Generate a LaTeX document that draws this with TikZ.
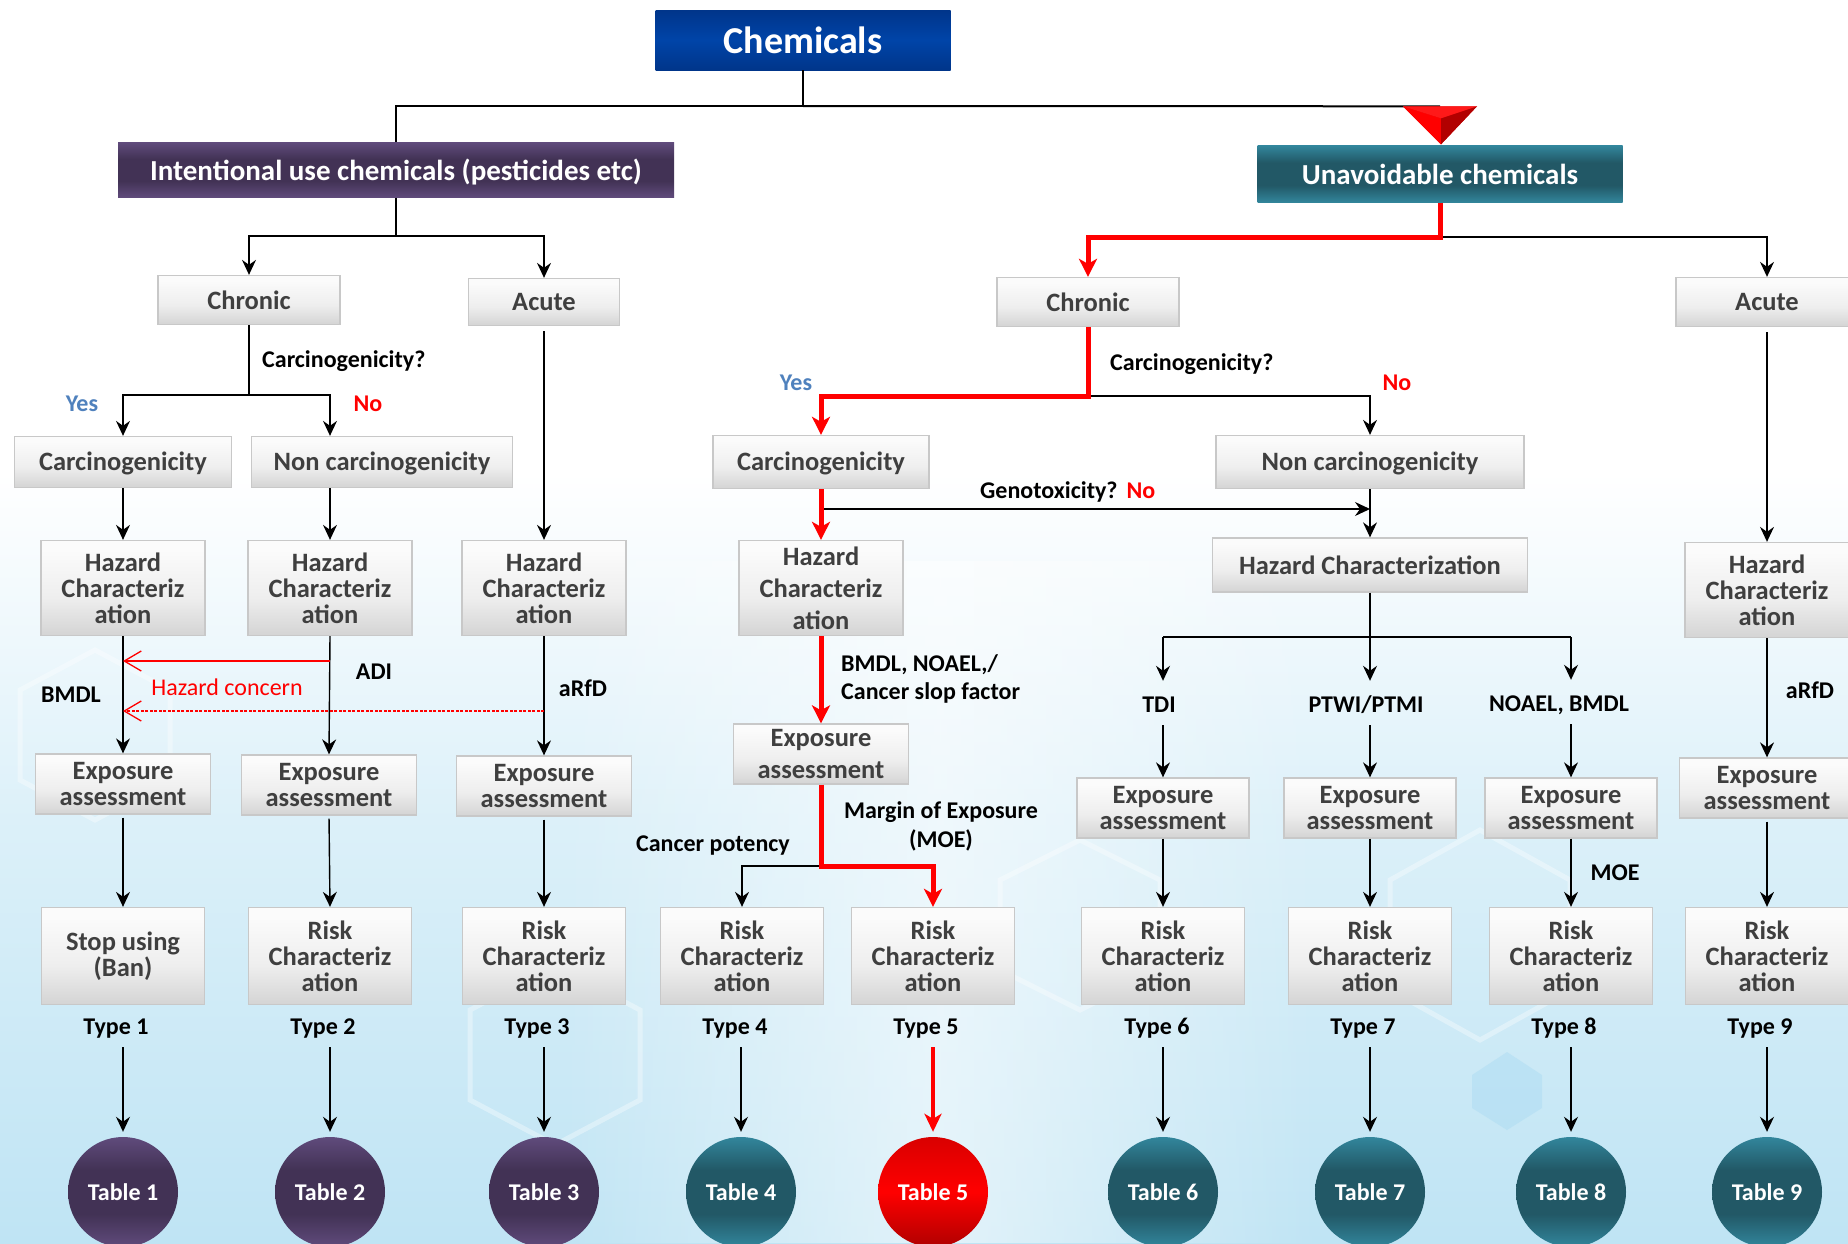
\documentclass[tikz,border=0pt]{standalone}
\usepackage{fontspec}
\setmainfont{Carlito}
\usetikzlibrary{arrows.meta,calc,shapes.geometric,fadings}

\definecolor{boxtxt}{HTML}{3F3F3F}
\definecolor{boxline}{HTML}{C8C8C8}
\definecolor{gtop}{HTML}{FBFBFB}
\definecolor{gmid}{HTML}{EEEEEE}
\definecolor{gbot}{HTML}{D4D4D4}
\definecolor{purpE}{HTML}{604B7C}
\definecolor{purpM}{HTML}{423255}
\definecolor{tealE}{HTML}{32869C}
\definecolor{tealM}{HTML}{225866}
\definecolor{blueE}{HTML}{00358A}
\definecolor{blueM}{HTML}{0044A8}
\definecolor{yesblue}{HTML}{4F81BD}
\definecolor{bgblue}{HTML}{BFE4F4}
\definecolor{hexblue}{HTML}{A9DAF2}
\definecolor{redE}{HTML}{B00000}

\pgfdeclareverticalshading{grayshade}{100bp}{color(0bp)=(gbot); color(25bp)=(gbot); color(45bp)=(gmid); color(70bp)=(gtop); color(100bp)=(gtop)}
\pgfdeclareverticalshading{purpshade}{100bp}{color(0bp)=(purpE); color(25bp)=(purpE); color(40bp)=(purpM); color(60bp)=(purpM); color(75bp)=(purpE); color(100bp)=(purpE)}
\pgfdeclareverticalshading{tealshade}{100bp}{color(0bp)=(tealE); color(25bp)=(tealE); color(40bp)=(tealM); color(60bp)=(tealM); color(75bp)=(tealE); color(100bp)=(tealE)}
\pgfdeclareverticalshading{blueshade}{100bp}{color(0bp)=(blueE); color(25bp)=(blueE); color(50bp)=(blueM); color(75bp)=(blueE); color(100bp)=(blueE)}
\pgfdeclareverticalshading{redshade}{100bp}{color(0bp)=(redE); color(25bp)=(redE); color(50bp)=(red); color(75bp)=(red!85!black); color(100bp)=(red!85!black)}
\pgfdeclareverticalshading{bgshade}{100bp}{color(0bp)=(bgblue); color(25bp)=(bgblue); color(42bp)=(bgblue!55!white); color(56bp)=(white); color(100bp)=(white)}
\tikzfading[name=midfade, left color=transparent!100, right color=transparent!100, middle color=transparent!0]

\tikzset{
  gbox/.style={draw=boxline, line width=1.3pt, shade, shading=grayshade, text=boxtxt,
    font=\bfseries\fontsize{26.5}{26}\selectfont, align=center, inner sep=0pt},
  desc/.style={text height=19pt, text depth=1.5pt},
  hzbox/.style={gbox, minimum width=164pt, minimum height=95pt},
  exbox/.style={gbox, minimum width=175pt, minimum height=60pt},
  rkbox/.style={gbox, minimum width=163pt, minimum height=97pt},
  hdr/.style={shade, text=white, font=\bfseries\fontsize{29}{30}\selectfont, inner sep=0pt},
  lbl/.style={font=\bfseries\fontsize{24}{28}\selectfont, inner sep=0pt, text height=19.5pt, text depth=2.5pt},
  tabc/.style={circle, minimum size=110pt, inner sep=0pt, shade, text=white,
    font=\bfseries\fontsize{24}{28}\selectfont},
  tree/.style={line width=2pt, draw=black},
  arr/.style={line width=1.4pt, draw=black, -{Stealth[length=15pt,width=14pt,inset=5pt]}},
  redline/.style={line width=5pt, draw=red},
  redarr/.style={line width=5pt, draw=red, -{Stealth[length=18pt,width=18pt,inset=5pt]}},
  hcarr/.style={line width=1.3pt, draw=red, -{Straight Barb[length=17pt,width=20pt,line width=1.3pt]}},
  hexa/.style={draw=white, line width=5pt, opacity=0.35},
}

\begin{document}
\begin{tikzpicture}[x=1pt,y=-1pt]
\useasboundingbox (0,0) rectangle (1848,1243);
\shade[shading=bgshade] (0,0) rectangle (1848,1243);
\fill[white, opacity=0.55, path fading=midfade] (560,560) rectangle (1320,1243);
% faint background hexagons
\draw[hexa] (20,690) -- (95,650) -- (170,690) -- (170,780) -- (95,820) -- (20,780) -- cycle;
\draw[hexa] (470,1010) -- (555,965) -- (640,1010) -- (640,1100) -- (555,1145) -- (470,1100) -- cycle;
\draw[hexa] (1000,880) -- (1080,840) -- (1160,880) -- (1160,970) -- (1080,1010) -- (1000,970) -- cycle;
\draw[hexa] (1390,880) -- (1480,830) -- (1570,880) -- (1570,990) -- (1480,1040) -- (1390,990) -- cycle;
\fill[hexblue, opacity=0.45] (1472,1075) -- (1507,1052) -- (1542,1075) -- (1542,1108) -- (1507,1130) -- (1472,1108) -- cycle;

% ---------- top level ----------
\node[hdr, shading=blueshade, minimum width=295pt, minimum height=60pt,
      font=\bfseries\fontsize{38}{40}\selectfont] (chem) at (803,40) {Chemicals};
\node[hdr, shading=purpshade, minimum width=556pt, minimum height=55pt, text height=22pt, text depth=1pt] (intent) at (396,170) {Intentional use chemicals (pesticides etc)};
\node[hdr, shading=tealshade, minimum width=365pt, minimum height=57pt, text height=21pt, text depth=1pt] (unav) at (1440,174) {Unavoidable chemicals};

% ---------- left branch boxes ----------
\node[gbox, minimum width=182pt, minimum height=49pt] (lchr) at (249,300) {Chronic};
\node[gbox, minimum width=151pt, minimum height=47pt] (lacu) at (544,302) {Acute};
\node[gbox, desc, minimum width=217pt, minimum height=51pt] (lcar) at (123,462) {Carcinogenicity};
\node[gbox, desc, minimum width=261pt, minimum height=51pt] (lnon) at (382,462) {Non carcinogenicity};
\node[hzbox] (lhz1) at (123,588) {Hazard\\Characteriz\\ation};
\node[hzbox] (lhz2) at (330,588) {Hazard\\Characteriz\\ation};
\node[hzbox] (lhz3) at (544,588) {Hazard\\Characteriz\\ation};
\node[exbox] (lex1) at (123,784) {Exposure\\assessment};
\node[exbox] (lex2) at (329,785) {Exposure\\assessment};
\node[exbox] (lex3) at (544,786) {Exposure\\assessment};
\node[rkbox] (lrk1) at (123,956) {Stop using\\(Ban)};
\node[rkbox] (lrk2) at (330,956) {Risk\\Characteriz\\ation};
\node[rkbox] (lrk3) at (544,956) {Risk\\Characteriz\\ation};

% ---------- right branch boxes ----------
\node[gbox, minimum width=182pt, minimum height=49pt] (rchr) at (1088,302) {Chronic};
\node[gbox, minimum width=182pt, minimum height=49pt] (racu) at (1767,302) {Acute};
\node[gbox, desc, minimum width=216pt, minimum height=53pt] (rcar) at (821,462) {Carcinogenicity};
\node[gbox, desc, minimum width=308pt, minimum height=53pt] (rnon) at (1370,462) {Non carcinogenicity};
\node[hzbox, font=\bfseries\fontsize{26.5}{32}\selectfont] (rhz1) at (821,588) {Hazard\\Characteriz\\ation};
\node[gbox, minimum width=315pt, minimum height=54pt] (rhzc) at (1370,565) {Hazard Characterization};
\node[exbox, font=\bfseries\fontsize{26.5}{32}\selectfont] (rex1) at (821,754) {Exposure\\assessment};
\node[rkbox] (rk4) at (742,956) {Risk\\Characteriz\\ation};
\node[rkbox] (rk5) at (933,956) {Risk\\Characteriz\\ation};
\node[exbox, minimum width=172pt] (ex6) at (1163,808) {Exposure\\assessment};
\node[exbox, minimum width=172pt] (ex7) at (1370,808) {Exposure\\assessment};
\node[exbox, minimum width=172pt] (ex8) at (1571,808) {Exposure\\assessment};
\node[hzbox] (rhz9) at (1767,590) {Hazard\\Characteriz\\ation};
\node[exbox] (ex9) at (1767,788) {Exposure\\assessment};
\node[rkbox] (rk6) at (1163,956) {Risk\\Characteriz\\ation};
\node[rkbox] (rk7) at (1370,956) {Risk\\Characteriz\\ation};
\node[rkbox] (rk8) at (1571,956) {Risk\\Characteriz\\ation};
\node[rkbox] (rk9) at (1767,956) {Risk\\Characteriz\\ation};

% ---------- type labels ----------
\node[lbl] (t1) at (116,1026) {Type 1};
\node[lbl] (t2) at (323,1026) {Type 2};
\node[lbl] (t3) at (537,1026) {Type 3};
\node[lbl] (t4) at (735,1026) {Type 4};
\node[lbl] (t5) at (926,1026) {Type 5};
\node[lbl] (t6) at (1157,1026) {Type 6};
\node[lbl] (t7) at (1363,1026) {Type 7};
\node[lbl] (t8) at (1564,1026) {Type 8};
\node[lbl] (t9) at (1760,1026) {Type 9};

% ---------- tables ----------
\node[tabc, shading=purpshade] (c1) at (123,1192) {Table 1};
\node[tabc, shading=purpshade] (c2) at (330,1192) {Table 2};
\node[tabc, shading=purpshade] (c3) at (544,1192) {Table 3};
\node[tabc, shading=tealshade] (c4) at (741,1192) {Table 4};
\node[tabc, shading=redshade]  (c5) at (933,1192) {Table 5};
\node[tabc, shading=tealshade] (c6) at (1163,1192) {Table 6};
\node[tabc, shading=tealshade] (c7) at (1370,1192) {Table 7};
\node[tabc, shading=tealshade] (c8) at (1571,1192) {Table 8};
\node[tabc, shading=tealshade] (c9) at (1767,1192) {Table 9};

% ---------- labels ----------
\node[lbl, anchor=west] (lq) at (262,359) {Carcinogenicity?};
\node[lbl, text=yesblue] (lyes) at (82,403) {Yes};
\node[lbl, text=red] (lno) at (368,403) {No};
\node[lbl] (lbmdl) at (71,694) {BMDL};
\node[lbl] (ladi) at (374,671) {ADI};
\node[lbl] (larfd) at (583,688) {aRfD};
\node[lbl, font=\fontsize{24}{28}\selectfont, text=red] (hcon) at (227,687) {Hazard concern};

\node[lbl, anchor=west] (rq) at (1110,362) {Carcinogenicity?};
\node[lbl, text=yesblue] (ryes) at (796,382) {Yes};
\node[lbl, text=red] (rno) at (1397,382) {No};
\node[lbl, anchor=west] (geno) at (980,490) {Genotoxicity?\hspace{9pt}\textcolor{red}{No}};
\node[lbl, anchor=west, align=left, text height=, text depth=] (bmdl2) at (841,679) {BMDL, NOAEL,/\\Cancer slop factor};
\node[lbl, align=center, text height=, text depth=, font=\bfseries\fontsize{24}{29}\selectfont] (moe) at (941,826) {Margin of Exposure\\(MOE)};
\node[lbl] (cpot) at (713,843) {Cancer potency};
\node[lbl] (tdi) at (1159,704) {TDI};
\node[lbl] (ptwi) at (1366,704) {PTWI/PTMI};
\node[lbl] (noael) at (1559,703) {NOAEL, BMDL};
\node[lbl] (moe8) at (1615,872) {MOE};
\node[lbl] (rarfd) at (1810,690) {aRfD};

% ---------- junction coordinates ----------
\coordinate (j0) at (803,106);
\coordinate (j1) at (396,236);
\coordinate (j2) at (249,395);
\coordinate (j3) at (1440,237);
\coordinate (j4) at (1088,396);
\coordinate (gy) at (0,509);
\coordinate (hj) at (1370,637);
\coordinate (hc1) at (0,661);
\coordinate (hc2) at (0,711);
\coordinate (mj) at (821,866);

% ---------- top connectors ----------
\draw[tree] (chem.south) -- (j0) -| (intent.north);
\draw[tree] (j0) -- ($(unav.north)+(0,-39)$);
% 3D red triangle marker
\fill[red!85!black] ($(unav.north)+(-37,-39)$) -- ($(unav.north)+(37,-39)$) -- ($(unav.north)+(1,-1)$) -- cycle;
\fill[red] ($(unav.north)+(-37,-39)$) -- ($(unav.north)+(1,-27)$) -- ($(unav.north)+(1,-1)$) -- cycle;
\fill[red!70!black] ($(unav.north)+(37,-39)$) -- ($(unav.north)+(1,-27)$) -- ($(unav.north)+(1,-1)$) -- cycle;
\fill[red!90!white] ($(unav.north)+(-37,-39)$) -- ($(unav.north)+(37,-39)$) -- ($(unav.north)+(1,-27)$) -- cycle;

% ---------- left tree ----------
\draw[tree] (intent.south) -- (j1);
\draw[arr] (j1) -| (lchr.north);
\draw[arr] (j1) -| (lacu.north);
\draw[tree] (lchr.south) -- (j2);
\draw[arr] (j2) -| (lcar.north);
\draw[arr] (j2) -| (lhz2.north |- lnon.north);
\draw[arr] (lhz1.north |- lcar.south) -- (lhz1.north);
\draw[arr] (lhz2.north |- lnon.south) -- (lhz2.north);
\draw[arr, shorten <=5pt] (lacu.south) -- (lhz3.north);
\draw[arr] (lhz1.south) -- (lex1.north);
\draw[arr] (lhz2.south) -- (lex2.north);
\draw[arr] (lhz3.south) -- (lex3.north);
\draw[arr, shorten <=3pt] (lex1.south) -- (lrk1.north);
\draw[arr, shorten <=3pt] (lex2.south) -- (lrk2.north);
\draw[arr, shorten <=3pt] (lex3.south) -- (lrk3.north);
\draw[hcarr] (lhz2.south |- hc1) -- (lhz1.south |- hc1);
\draw[hcarr, dash pattern=on 3pt off 1.5pt] (lhz3.south |- hc2) -- (lhz1.south |- hc2);

% ---------- right tree ----------
\draw[line width=1.8pt] (j3) -| ($(racu.north)+(0,-16)$);
\draw[arr] ($(racu.north)+(0,-17)$) -- (racu.north);
\draw[redline] (unav.south) -- (j3) -| ($(rchr.north)+(0,-20)$);
\draw[redarr] ($(rchr.north)+(0,-22)$) -- (rchr.north);
\draw[line width=1.8pt] (j4) -| ($(rnon.north)+(0,-16)$);
\draw[arr] ($(rnon.north)+(0,-17)$) -- (rnon.north);
\draw[redline] (rchr.south) -- (j4) -| ($(rcar.north)+(0,-20)$);
\draw[redarr] ($(rcar.north)+(0,-22)$) -- (rcar.north);
\draw[arr, shorten <=5pt] (racu.south) -- (rhz9.north);
\draw[arr] (rhz9.south) -- (ex9.north);
\draw[arr, shorten <=3pt] (ex9.south) -- (rk9.north);

\draw[arr] (rcar.south |- gy) -- (rnon.south |- gy);
\draw[arr] (rnon.south) -- (rhzc.north);
\draw[redarr] (rcar.south) -- (rhz1.north);
\draw[redarr] (rhz1.south) -- (rex1.north);

\draw[tree] (rhzc.south) -- (hj);
\draw[tree] (ex6.north |- hj) -- (ex8.north |- hj);
\draw[arr, shorten >=12pt] (ex6.north |- hj) -- (ex6.north |- tdi.north);
\draw[arr, shorten >=12pt] (ex7.north |- hj) -- (ex7.north |- ptwi.north);
\draw[arr, shorten >=12pt] (ex8.north |- hj) -- (ex8.north |- noael.north);
\draw[arr, shorten <=10pt] (ex6.north |- tdi.south) -- (ex6.north);
\draw[arr, shorten <=10pt] (ex7.north |- ptwi.south) -- (ex7.north);
\draw[arr, shorten <=10pt] (ex8.north |- noael.south) -- (ex8.north);
\draw[arr] (ex6.south) -- (rk6.north);
\draw[arr] (ex7.south) -- (rk7.north);
\draw[arr] (ex8.south) -- (rk8.north);

\draw[line width=1.8pt] (mj) -| ($(rk4.north)+(0,-16)$);
\draw[arr] ($(rk4.north)+(0,-17)$) -- (rk4.north);
\draw[redline] (rex1.south) -- (mj) -| ($(rk5.north)+(0,-20)$);
\draw[redarr] ($(rk5.north)+(0,-22)$) -- (rk5.north);

% ---------- type -> table ----------
\foreach \i in {1,2,3,4,6,7,8,9}{
  \draw[arr, shorten <=10pt, shorten >=5pt] (c\i.north |- t\i.south) -- (c\i.north);
}
\draw[line width=4.5pt, draw=red, -{Stealth[length=18pt,width=17pt,inset=5pt]}, shorten <=10pt, shorten >=5pt] (c5.north |- t5.south) -- (c5.north);

\end{tikzpicture}
\end{document}
